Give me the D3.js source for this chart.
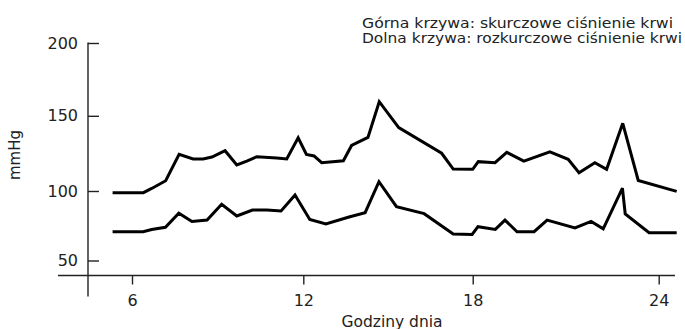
<!DOCTYPE html>
<html>
<head>
<meta charset="utf-8">
<script src="https://cdn.jsdelivr.net/npm/d3@7"></script>
<style>
  html, body { margin: 0; padding: 0; background: #fff; }
  svg { display: block; font-family: "DejaVu Sans", sans-serif; }
</style>
</head>
<body>
<svg id="chart" width="685" height="329"></svg>
<script>
// Hour of day for each reading
const systolicHours = [5.32, 6.40, 6.69, 7.18, 7.65, 8.14, 8.49, 8.80, 9.26, 9.67, 10.02, 10.37,
  11.07, 11.42, 11.82, 12.11, 12.38, 12.65, 13.42, 13.71, 14.29, 14.69, 15.38, 16.90, 17.31,
  18.00, 18.18, 18.72, 19.10, 19.65, 20.49, 21.08, 21.43, 21.94, 22.32, 22.84, 23.34, 24.58];
// Systolic pressure (mmHg)
const systolicValues = [98.8, 98.8, 101.7, 106.8, 124.4, 121.3, 121.3, 122.6, 126.8, 117.3, 119.9, 122.8,
  121.9, 121.3, 135.4, 124.3, 123.3, 118.8, 120.1, 130.3, 135.6, 159.7, 142.2, 125.1, 114.6,
  114.4, 119.5, 118.8, 125.7, 119.9, 126.1, 121.1, 112.2, 118.8, 114.4, 145.0, 107.0, 99.7];

const diastolicHours = [5.32, 6.39, 6.69, 7.17, 7.64, 8.10, 8.63, 9.14, 9.67, 10.22, 10.72, 11.22,
  11.71, 12.23, 12.80, 13.62, 14.19, 14.68, 15.30, 16.28, 17.31, 17.98, 18.17, 18.73, 19.04,
  19.43, 19.98, 20.40, 21.30, 21.82, 22.21, 22.83, 22.92, 23.69, 24.58];
// Diastolic pressure (mmHg)
const diastolicValues = [70.7, 70.7, 72.3, 73.9, 84.0, 78.1, 79.1, 90.4, 82.0, 86.3, 86.3, 85.6,
  97.1, 79.5, 76.3, 81.3, 84.4, 106.2, 88.7, 83.7, 69.1, 68.7, 74.3, 72.4, 79.1,
  70.7, 70.7, 79.1, 73.4, 78.1, 72.8, 101.9, 83.5, 70.0, 70.0];

const xTicks = [6, 12, 18, 24];
const yTicks = [50, 100, 150, 200];
const legendLines = [
  "Górna krzywa: skurczowe ciśnienie krwi",
  "Dolna krzywa: rozkurczowe ciśnienie krwi"
];
const legendWidths = [311, 320];
const xTitle = "Godziny dnia";
const yTitle = "mmHg";

const svg = d3.select("#chart");
const ink = "#222";

// Piecewise scales follow the hand-placed tick marks of the printed axes
const x = d3.scaleLinear().domain([6, 12, 18, 24]).range([132, 303.3, 472.7, 658.7]);
const y = d3.scaleLinear().domain([50, 100, 150, 200]).range([260.5, 191, 115.8, 43]);

const xAxisY = 275.5;
const yAxisX = 88;

// Axis lines cross each other, extending past the origin
svg.append("line")
  .attr("x1", yAxisX).attr("x2", yAxisX)
  .attr("y1", 42.5).attr("y2", 296.5)
  .attr("stroke", ink).attr("stroke-width", 1.4);
svg.append("line")
  .attr("x1", 58).attr("x2", 675)
  .attr("y1", xAxisY).attr("y2", xAxisY)
  .attr("stroke", ink).attr("stroke-width", 1.4);

// Y axis: ticks point inward, labels on the left
const yAxis = svg.append("g")
  .attr("transform", `translate(${yAxisX},0)`)
  .call(d3.axisLeft(y).tickValues(yTicks).tickSize(-11).tickPadding(10));
yAxis.select(".domain").remove();
yAxis.selectAll(".tick line").attr("stroke", ink).attr("stroke-width", 1.4);
yAxis.selectAll(".tick text")
  .attr("fill", ink).style("font-size", "16px").style("font-family", "DejaVu Sans, sans-serif");

// X axis: short ticks below the line
const xAxis = svg.append("g")
  .attr("transform", `translate(0,${xAxisY})`)
  .call(d3.axisBottom(x).tickValues(xTicks).tickFormat(d3.format("d")).tickSize(9).tickPadding(10));
xAxis.select(".domain").remove();
xAxis.selectAll(".tick line").attr("stroke", ink).attr("stroke-width", 1.4);
xAxis.selectAll(".tick text")
  .attr("fill", ink).style("font-size", "16px").style("font-family", "DejaVu Sans, sans-serif");

// Blood pressure curves
const line = d3.line()
  .x(d => x(d[0]))
  .y(d => y(d[1]));

const series = [
  d3.zip(systolicHours, systolicValues),
  d3.zip(diastolicHours, diastolicValues)
];

svg.selectAll("path.curve")
  .data(series)
  .join("path")
  .attr("class", "curve")
  .attr("d", line)
  .attr("fill", "none")
  .attr("stroke", "#000")
  .attr("stroke-width", 3)
  .attr("stroke-linejoin", "miter")
  .attr("stroke-miterlimit", 3);

// Axis titles
svg.append("text")
  .attr("x", 392).attr("y", 326.5)
  .attr("text-anchor", "middle")
  .attr("fill", ink)
  .style("font-size", "15.5px")
  .text(xTitle);

svg.append("text")
  .attr("transform", "translate(20,155) rotate(-90)")
  .attr("text-anchor", "middle")
  .attr("fill", ink)
  .style("font-size", "15px")
  .text(yTitle);

// Explanatory note in the top right corner, set in a wide, short face
svg.append("g")
  .selectAll("text")
  .data(legendLines)
  .join("text")
  .attr("x", 362)
  .attr("y", (d, i) => 27.5 + i * 15)
  .attr("fill", ink)
  .attr("textLength", (d, i) => legendWidths[i])
  .attr("lengthAdjust", "spacingAndGlyphs")
  .style("font-size", "14px")
  .text(d => d);
</script>
</body>
</html>
